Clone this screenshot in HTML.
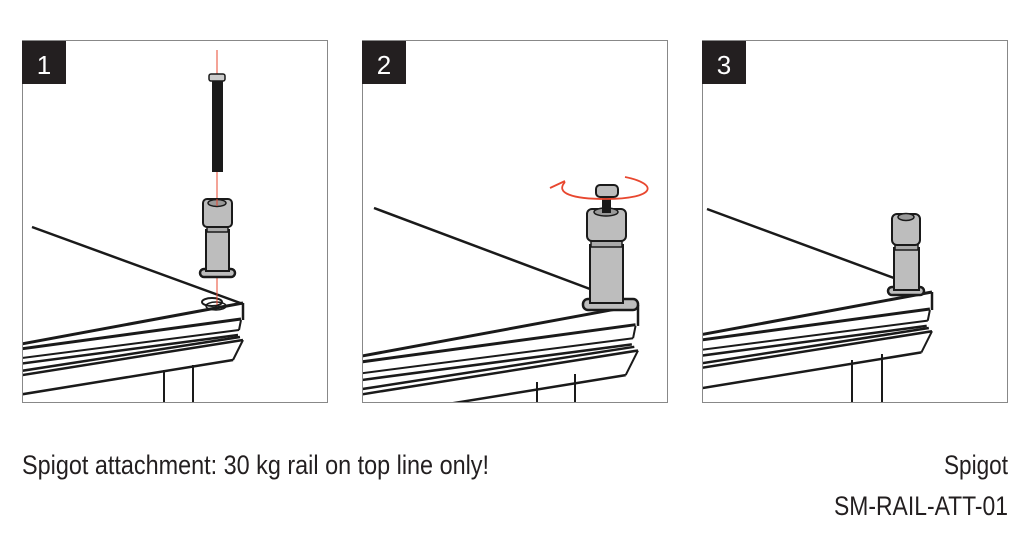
<!DOCTYPE html>
<html><head><meta charset="utf-8"><style>
html,body{margin:0;padding:0;background:#fff;}
svg{display:block;}
</style></head><body>
<svg width="1033" height="543" viewBox="0 0 1033 543" xmlns="http://www.w3.org/2000/svg">
<defs>
<clipPath id="c1"><rect x="22" y="40" width="306" height="363"/></clipPath>
<clipPath id="c2"><rect x="362" y="40" width="306" height="363"/></clipPath>
<clipPath id="c3"><rect x="702" y="40" width="306" height="363"/></clipPath>
<g id="rail" fill="none" stroke="#1a1a1a" stroke-linecap="butt">
  <line x1="-422" y1="78" x2="0" y2="0" stroke-width="3" vector-effect="non-scaling-stroke"/>
  <line x1="-422" y1="73" x2="-2" y2="16" stroke-width="3" vector-effect="non-scaling-stroke"/>
  <line x1="0" y1="0" x2="0" y2="17" stroke-width="2.5" vector-effect="non-scaling-stroke"/>
  <line x1="-2" y1="17" x2="-4" y2="27" stroke-width="2" vector-effect="non-scaling-stroke"/>
  <line x1="-422" y1="81" x2="-4" y2="27" stroke-width="2" vector-effect="non-scaling-stroke"/>
  <line x1="-422" y1="87" x2="-5" y2="32" stroke-width="2.5" vector-effect="non-scaling-stroke"/>
  <line x1="-422" y1="99" x2="-3" y2="34" stroke-width="2.5" vector-effect="non-scaling-stroke"/>
  <line x1="-422" y1="104" x2="0" y2="37" stroke-width="2.5" vector-effect="non-scaling-stroke"/>
  <line x1="-422" y1="124" x2="-10" y2="57" stroke-width="2.5" vector-effect="non-scaling-stroke"/>
  <line x1="0" y1="37" x2="-10" y2="57" stroke-width="2" vector-effect="non-scaling-stroke"/>
</g>
</defs>

<!-- Panel 1 -->
<g clip-path="url(#c1)">
  <line x1="32" y1="227" x2="243" y2="304" stroke="#1a1a1a" stroke-width="2.5"/>
  <use href="#rail" transform="translate(243,303)"/>
  <line x1="164" y1="370" x2="164" y2="403" stroke="#1a1a1a" stroke-width="2"/>
  <line x1="193" y1="365" x2="193" y2="403" stroke="#1a1a1a" stroke-width="2"/>
  <ellipse cx="212" cy="302" rx="10" ry="4" fill="none" stroke="#1a1a1a" stroke-width="2"/>
  <ellipse cx="216" cy="306" rx="10" ry="4" fill="none" stroke="#1a1a1a" stroke-width="1.5"/>
  <line x1="217" y1="50" x2="217" y2="76" stroke="#e8472f" stroke-width="1"/>
  <line x1="217" y1="172" x2="217" y2="200" stroke="#e8472f" stroke-width="1"/>
  <line x1="217" y1="276" x2="217" y2="305" stroke="#e8472f" stroke-width="1"/>
  <!-- spigot -->
  <rect x="200" y="269" width="35" height="8" rx="4" fill="#bdbdbd" stroke="#1a1a1a" stroke-width="2.5"/>
  <rect x="206" y="230" width="23" height="41" fill="#bdbdbd" stroke="#1a1a1a" stroke-width="2"/>
  <rect x="207" y="225" width="21" height="7" fill="#aaa" stroke="#1a1a1a" stroke-width="1.5"/>
  <rect x="203" y="199" width="29" height="28" rx="4" fill="#bdbdbd" stroke="#1a1a1a" stroke-width="2"/>
  <ellipse cx="217" cy="203" rx="9" ry="3.5" fill="#999" stroke="#1a1a1a" stroke-width="1.5"/>
  <line x1="217" y1="199" x2="217" y2="206" stroke="#e8472f" stroke-width="1"/>
  <!-- bolt -->
  <rect x="212" y="80" width="11" height="92" fill="#1a1a1a"/>
  <rect x="209" y="74" width="16" height="7" rx="2" fill="#ccc" stroke="#1a1a1a" stroke-width="1.5"/>
</g>
<rect x="22.5" y="40.5" width="305" height="362" fill="none" stroke="#888" stroke-width="1"/>
<rect x="22" y="41" width="44" height="43" fill="#231f20"/>
<text x="44" y="74" fill="#fff" font-family="Liberation Sans, sans-serif" font-size="26" text-anchor="middle">1</text>

<!-- Panel 2 -->
<g clip-path="url(#c2)">
  <line x1="374" y1="208" x2="590" y2="289" stroke="#1a1a1a" stroke-width="2.5"/>
  <use href="#rail" transform="translate(638,305) scale(1.23)"/>
  <line x1="537" y1="382" x2="537" y2="403" stroke="#1a1a1a" stroke-width="2"/>
  <line x1="575" y1="374" x2="575" y2="403" stroke="#1a1a1a" stroke-width="2"/>
  <rect x="583" y="299" width="55" height="11" rx="5" fill="#bdbdbd" stroke="#1a1a1a" stroke-width="2.5"/>
  <rect x="590" y="245" width="33" height="58" fill="#bdbdbd" stroke="#1a1a1a" stroke-width="2"/>
  <rect x="591" y="239" width="31" height="8" fill="#aaa" stroke="#1a1a1a" stroke-width="1.5"/>
  <rect x="587" y="209" width="39" height="32" rx="5" fill="#bdbdbd" stroke="#1a1a1a" stroke-width="2"/>
  <ellipse cx="606" cy="212" rx="12" ry="4" fill="#999" stroke="#1a1a1a" stroke-width="1.5"/>
  <rect x="602" y="195" width="9" height="18" fill="#1a1a1a"/>
  <rect x="596" y="185" width="22" height="12" rx="4" fill="#bdbdbd" stroke="#1a1a1a" stroke-width="2"/>
  <path d="M625 177 C 660 184, 655 199, 606 199 C 572 199, 555 193, 565 182" fill="none" stroke="#e8472f" stroke-width="1.8"/>
  <path d="M550 188 L 565 181" fill="none" stroke="#e8472f" stroke-width="1.8"/>
</g>
<rect x="362.5" y="40.5" width="305" height="362" fill="none" stroke="#888" stroke-width="1"/>
<rect x="362" y="41" width="44" height="43" fill="#231f20"/>
<text x="384" y="74" fill="#fff" font-family="Liberation Sans, sans-serif" font-size="26" text-anchor="middle">2</text>

<!-- Panel 3 -->
<g clip-path="url(#c3)">
  <line x1="707" y1="209" x2="894" y2="278" stroke="#1a1a1a" stroke-width="2.5"/>
  <use href="#rail" transform="translate(932,292) scale(1.06)"/>
  <line x1="852" y1="360" x2="852" y2="403" stroke="#1a1a1a" stroke-width="2"/>
  <line x1="882" y1="354" x2="882" y2="403" stroke="#1a1a1a" stroke-width="2"/>
  <rect x="888" y="287" width="36" height="8" rx="4" fill="#bdbdbd" stroke="#1a1a1a" stroke-width="2.5"/>
  <rect x="894" y="248" width="25" height="42" fill="#bdbdbd" stroke="#1a1a1a" stroke-width="2"/>
  <rect x="895" y="243" width="23" height="7" fill="#aaa" stroke="#1a1a1a" stroke-width="1.5"/>
  <rect x="892" y="214" width="28" height="31" rx="5" fill="#bdbdbd" stroke="#1a1a1a" stroke-width="2"/>
  <ellipse cx="906" cy="217" rx="8" ry="3.5" fill="#999" stroke="#1a1a1a" stroke-width="1.5"/>
</g>
<rect x="702.5" y="40.5" width="305" height="362" fill="none" stroke="#888" stroke-width="1"/>
<rect x="702" y="41" width="44" height="43" fill="#231f20"/>
<text x="724" y="74" fill="#fff" font-family="Liberation Sans, sans-serif" font-size="26" text-anchor="middle">3</text>

<!-- Captions -->
<text x="22" y="474" fill="#231f20" font-family="Liberation Sans Narrow, Liberation Sans, sans-serif" font-size="27" textLength="467" lengthAdjust="spacingAndGlyphs">Spigot attachment: 30 kg rail on top line only!</text>
<text x="944" y="474" fill="#231f20" font-family="Liberation Sans Narrow, Liberation Sans, sans-serif" font-size="27" textLength="64" lengthAdjust="spacingAndGlyphs">Spigot</text>
<text x="834" y="515" fill="#231f20" font-family="Liberation Sans Narrow, Liberation Sans, sans-serif" font-size="27" textLength="174" lengthAdjust="spacingAndGlyphs">SM-RAIL-ATT-01</text>
</svg>
</body></html>
